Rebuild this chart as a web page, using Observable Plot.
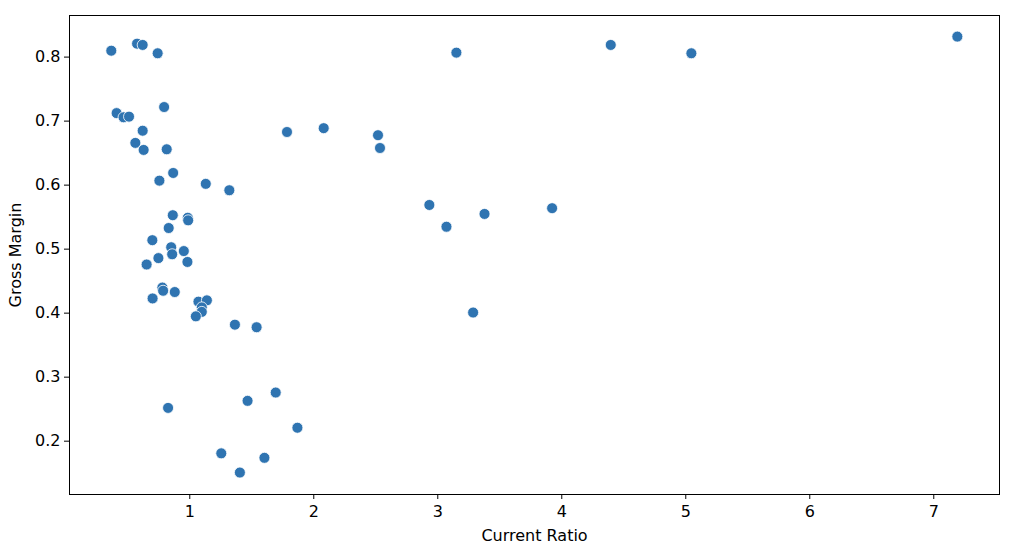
<!DOCTYPE html>
<html>
<head>
<meta charset="utf-8">
<script src="https://cdn.jsdelivr.net/npm/d3@7"></script>
<script src="https://cdn.jsdelivr.net/npm/@observablehq/plot@0.6"></script>
<style>
  html, body { margin: 0; padding: 0; background: #fff; }
  #chart { width: 1017px; height: 550px; }
</style>
</head>
<body>
<div id="chart"></div>
<script>
const currentRatio = [0.367,0.575,0.62,0.741,0.41,0.466,0.51,0.793,0.62,0.561,0.628,0.814,0.866,0.755,1.129,1.319,1.784,2.08,
  0.863,0.984,0.987,0.83,0.698,0.85,0.858,0.952,0.747,0.652,0.981,0.779,0.785,0.879,0.70,1.07,1.138,1.097,1.097,1.049,1.364,1.539,
  0.825,1.466,1.693,1.868,1.254,1.602,1.404,
  3.15,4.395,5.045,7.19,2.518,2.534,2.932,3.07,3.377,3.922,3.285];
const grossMargin = [0.810,0.821,0.819,0.806,0.7125,0.706,0.707,0.722,0.685,0.666,0.655,0.656,0.619,0.607,0.602,0.592,0.683,0.689,
  0.553,0.549,0.545,0.533,0.514,0.503,0.492,0.497,0.486,0.476,0.480,0.440,0.435,0.433,0.423,0.418,0.420,0.409,0.402,0.395,0.382,0.378,
  0.252,0.263,0.276,0.221,0.181,0.174,0.151,
  0.807,0.819,0.806,0.832,0.678,0.658,0.569,0.535,0.555,0.564,0.401];
const xTicks = [1,2,3,4,5,6,7];
const yTicks = [0.2,0.3,0.4,0.5,0.6,0.7,0.8];
const xLabel = "Current Ratio";
const yLabel = "Gross Margin";

const data = currentRatio.map((x, i) => ({x, y: grossMargin[i]}));

const chart = Plot.plot({
  width: 1017,
  height: 550,
  marginLeft: 69,
  marginRight: 18,
  marginTop: 15,
  marginBottom: 56,
  style: {fontFamily: "DejaVu Sans", fontSize: "16px", color: "#000", background: "#fff"},
  x: {domain: [0.03, 7.53]},
  y: {domain: [0.1167, 0.865]},
  marks: [
    Plot.dot(data, {x: "x", y: "y", r: 5.5, fill: "#2f74b1", stroke: "#fff", strokeWidth: 0.8}),
    Plot.frame({stroke: "#000", strokeWidth: 1}),
    Plot.axisX({ticks: xTicks, tickSize: 5, tickPadding: 6, tickFormat: d3.format("d"),
      label: xLabel, labelAnchor: "center", labelArrow: "none", labelOffset: 46, fontSize: 16}),
    Plot.axisY({ticks: yTicks, tickSize: 5, tickPadding: 4, tickFormat: d3.format(".1f"),
      label: yLabel, labelAnchor: "center", labelArrow: "none", labelOffset: 60, fontSize: 16})
  ]
});
document.getElementById("chart").appendChild(chart);
</script>
</body>
</html>
